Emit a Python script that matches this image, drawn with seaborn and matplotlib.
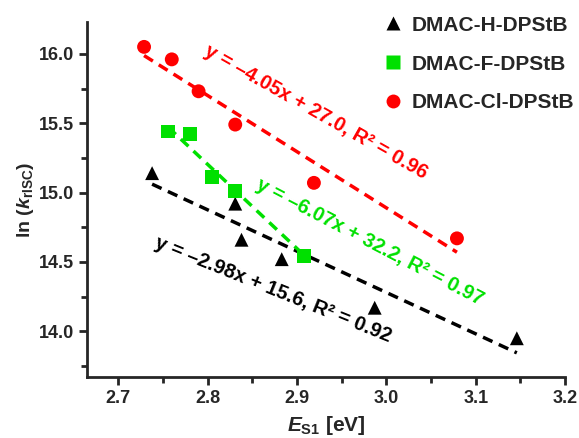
import numpy as np
import pandas as pd
import matplotlib
matplotlib.use("Agg")
import matplotlib.pyplot as plt
import seaborn as sns
from matplotlib.ticker import MultipleLocator

# data
h_x = [2.738, 2.831, 2.838, 2.883, 2.987, 3.146]
h_y = [15.14, 14.92, 14.66, 14.52, 14.17, 13.95]
f_x = [2.756, 2.780, 2.805, 2.831, 2.908]
f_y = [15.44, 15.42, 15.11, 15.01, 14.54]
cl_x = [2.729, 2.760, 2.790, 2.831, 2.919, 3.079]
cl_y = [16.05, 15.96, 15.73, 15.49, 15.07, 14.67]

names = ["DMAC-H-DPStB", "DMAC-F-DPStB", "DMAC-Cl-DPStB"]
colors = ["#000000", "#00e000", "#ff0000"]
# drawn fit lines (slope, intercept) and the printed equations
slopes = [-2.98, -6.07, -4.05]
intercepts = [23.22, 32.20, 27.04]
labels = ["y = –2.98x + 15.6, R² = 0.92",
          "y = –6.07x + 32.2, R² = 0.97",
          "y = –4.05x + 27.0, R² = 0.96"]
label_x = [2.873, 2.982, 2.921]
label_y = [14.30, 14.64, 15.58]
label_rot = [-22, -27.5, -29.5]

df = pd.concat([
    pd.DataFrame({"x": h_x, "y": h_y, "s": names[0]}),
    pd.DataFrame({"x": f_x, "y": f_y, "s": names[1]}),
    pd.DataFrame({"x": cl_x, "y": cl_y, "s": names[2]}),
])

sns.set_style("ticks")
plt.rcParams["font.family"] = ["Liberation Sans", "DejaVu Sans"]
plt.rcParams["font.weight"] = "bold"
plt.rcParams["mathtext.fontset"] = "custom"
plt.rcParams["mathtext.rm"] = "Liberation Sans:bold"
plt.rcParams["mathtext.bf"] = "Liberation Sans:bold"
plt.rcParams["mathtext.it"] = "Liberation Sans:bold:italic"

fig = plt.figure(figsize=(5.79, 4.38), dpi=100)
ax = fig.add_axes([0.150, 0.139, 0.826, 0.811])

# fit lines
for i, name in enumerate(names):
    xs = df.loc[df["s"] == name, "x"]
    xl = np.array([xs.min(), xs.max()])
    ax.plot(xl, slopes[i] * xl + intercepts[i], color=colors[i],
            lw=2.5, ls=(0, (3, 2)), zorder=2)

sns.scatterplot(data=df, x="x", y="y", hue="s", style="s",
                palette=dict(zip(names, colors)),
                markers=dict(zip(names, ["^", "s", "o"])),
                s=100, edgecolor="none", ax=ax, zorder=3)

# equations
for i in range(3):
    ax.text(label_x[i], label_y[i], labels[i], color=colors[i],
            rotation=label_rot[i], rotation_mode="anchor",
            ha="center", va="center", fontsize=14.5, fontweight="bold")

ax.set_xlim(2.665, 3.2)
ax.set_ylim(13.67, 16.23)
ax.xaxis.set_major_locator(MultipleLocator(0.1))
ax.xaxis.set_minor_locator(MultipleLocator(0.05))
ax.yaxis.set_major_locator(MultipleLocator(0.5))
ax.yaxis.set_minor_locator(MultipleLocator(0.25))
ax.tick_params(which="both", direction="out", width=2, labelsize=13)
ax.tick_params(which="major", length=6)
ax.tick_params(which="minor", length=4)
for lab in ax.get_xticklabels() + ax.get_yticklabels():
    lab.set_fontweight("bold")
for sp in ["left", "bottom"]:
    ax.spines[sp].set_linewidth(2)
sns.despine(ax=ax)

ax.set_xlabel(r"$E_\mathrm{S1}$ [eV]", fontsize=15, fontweight="bold", labelpad=5)
ax.set_ylabel(r"ln ($k_\mathrm{rISC}$)", fontsize=14, fontweight="bold", labelpad=2)

leg = ax.legend(loc="upper right", bbox_to_anchor=(1.058, 1.07), frameon=False,
                fontsize=15, labelspacing=0.95, handletextpad=0.3,
                markerscale=1.0, handlelength=1.2)
for t in leg.get_texts():
    t.set_fontweight("bold")

fig.savefig("out.png", dpi=100)
